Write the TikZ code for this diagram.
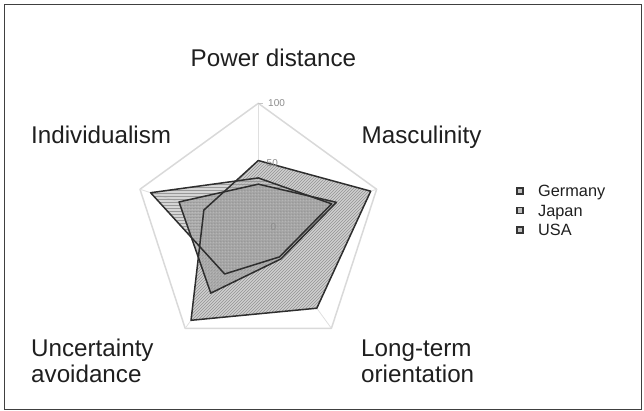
\documentclass[tikz,border=0pt]{standalone}
\usepackage{fontspec}
\setmainfont{Liberation Sans}
\usetikzlibrary{calc,patterns}
\begin{document}
\begin{tikzpicture}[x=1pt,y=-1pt,
  axislabel/.style={font=\fontsize{24.2}{26}\selectfont, text=black!88, inner sep=0pt, anchor=base west},
  legtext/.style={font=\fontsize{16.3}{18}\selectfont, text=black!88, inner sep=0pt, anchor=base west},
  ticklabel/.style={font=\fontsize{10}{11}\selectfont, text=gray!90, inner sep=0pt, anchor=west},
  gridline/.style={draw=gray!30, line width=1.5pt},
  spoke/.style={draw=gray!25, line width=0.8pt},
  outline/.style={draw=black!82, line width=1.5pt, line join=round},
  legbox/.style={draw=black!80, line width=1.6pt, fill=gray!50, minimum size=6pt, inner sep=0pt}
]
\useasboundingbox (0,0) rectangle (644,410);
\draw[black!75, line width=0.8pt] (4.5,4.5) rectangle (641.5,409.5);

\coordinate (c) at (258.3,227.7);
% pentagon vertices
\coordinate (p1) at ($(c)+(270:124.4)$);
\coordinate (p2) at ($(c)+(342:124.4)$);
\coordinate (p3) at ($(c)+(54:124.4)$);
\coordinate (p4) at ($(c)+(126:124.4)$);
\coordinate (p5) at ($(c)+(198:124.4)$);
\draw[gridline, line join=round] (p1) -- (p2) -- (p3) -- (p4) -- (p5) -- cycle;
\foreach \i in {1,...,5} \draw[spoke] (c) -- (p\i);

% Japan: 54 95 80 92 46
\coordinate (j1) at ($(c)+(270:54*1.244)$);
\coordinate (j2) at ($(c)+(342:95*1.244)$);
\coordinate (j3) at ($(c)+(54:80*1.244)$);
\coordinate (j4) at ($(c)+(126:92*1.244)$);
\coordinate (j5) at ($(c)+(198:46*1.244)$);
% USA: 40 62 29 46 91
\coordinate (u1) at ($(c)+(270:40*1.244)$);
\coordinate (u2) at ($(c)+(342:62*1.244)$);
\coordinate (u3) at ($(c)+(54:29*1.244)$);
\coordinate (u4) at ($(c)+(126:46*1.244)$);
\coordinate (u5) at ($(c)+(198:91*1.244)$);
% Germany: 35 66 31 65 67
\coordinate (g1) at ($(c)+(270:35*1.244)$);
\coordinate (g2) at ($(c)+(342:66*1.244)$);
\coordinate (g3) at ($(c)+(54:31*1.244)$);
\coordinate (g4) at ($(c)+(126:65*1.244)$);
\coordinate (g5) at ($(c)+(198:67*1.244)$);

% fills
\fill[gray!38] (j1) -- (j2) -- (j3) -- (j4) -- (j5) -- cycle;
\path[pattern=north east lines, pattern color=gray!85] (j1) -- (j2) -- (j3) -- (j4) -- (j5) -- cycle;
\fill[gray!50, fill opacity=0.65] (u1) -- (u2) -- (u3) -- (u4) -- (u5) -- cycle;
\path[pattern=horizontal lines, pattern color=gray!80] (u1) -- (u2) -- (u3) -- (u4) -- (u5) -- cycle;
\fill[gray!80, fill opacity=0.65] (g1) -- (g2) -- (g3) -- (g4) -- (g5) -- cycle;
\path[pattern=dots, pattern color=white!80!gray] (g1) -- (g2) -- (g3) -- (g4) -- (g5) -- cycle;

% outlines
\draw[outline] (j1) -- (j2) -- (j3) -- (j4) -- (j5) -- cycle;
\draw[outline] (u1) -- (u2) -- (u3) -- (u4) -- (u5) -- cycle;
\draw[outline] (g1) -- (g2) -- (g3) -- (g4) -- (g5) -- cycle;

% tick labels
\draw[gray!45, line width=0.8pt] (p1) -- ++(5,0);
\node[ticklabel] (t100) at (268,103) {100};
\node[ticklabel] (t50) at (266.5,163) {50};
\node[ticklabel] (t0) at (270.5,227.5) {0};

% axis labels
\node[axislabel] (pd) at (190.5,66.7) {Power distance};
\node[axislabel] (ind) at (31,143.3) {Individualism};
\node[axislabel] (mas) at (361.5,143.3) {Masculinity};
\node[axislabel] (ua1) at (31,356.7) {Uncertainty};
\node[axislabel] (ua2) at (31,382.7) {avoidance};
\node[axislabel] (lt1) at (361,356.7) {Long-term};
\node[axislabel] (lt2) at (361,382.7) {orientation};

% legend
\node[legbox] (lg) at (520,191) {};
\node[legbox] (lj) at (520,210.5) {};
\node[legbox] (lu) at (520,230) {};
\node[legtext] (lgt) at (538,196.5) {Germany};
\node[legtext] (ljt) at (538,216) {Japan};
\node[legtext] (lut) at (538,235.5) {USA};
\end{tikzpicture}
\end{document}
